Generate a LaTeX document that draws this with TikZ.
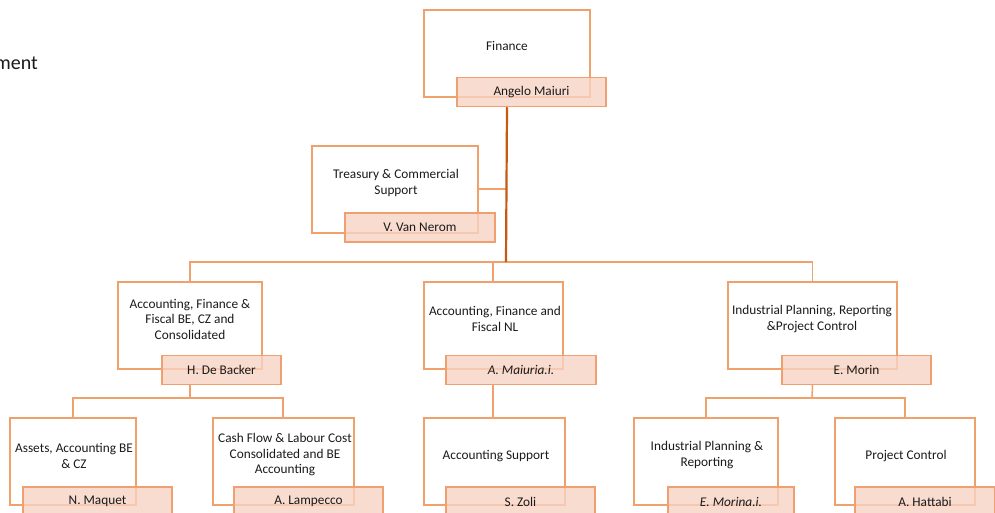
\documentclass[tikz,border=0pt]{standalone}
\usepackage{fontspec}
\setmainfont{Carlito}
\definecolor{boxc}{HTML}{F0A06A}
\definecolor{trunkc}{HTML}{C55A11}
\definecolor{namefill}{HTML}{F8D3C4}
\definecolor{namedraw}{HTML}{F0A070}
\definecolor{txt}{HTML}{1A1A1A}
\begin{document}
\begin{tikzpicture}[x=1pt,y=-1pt,
  unitbox/.style={draw=boxc,line width=1.5pt,inner sep=0pt,minimum height=87pt},
  namebox/.style={draw=namedraw,line width=1.5pt,fill=namefill,fill opacity=0.8,text opacity=1,inner sep=0pt,minimum height=29pt,font=\fontsize{13.3}{15}\selectfont,text=txt},
  unittext/.style={align=center,font=\fontsize{13.3}{15.5}\selectfont,text=txt,inner sep=0pt},
  link/.style={draw=boxc,line width=1.5pt},
  trunk/.style={draw=trunkc,line width=2.2pt}]
\useasboundingbox (0,0) rectangle (995,513);
\node[anchor=base east,font=\fontsize{20}{24}\selectfont,text=txt,inner sep=0pt] (title) at (38,70) {ment};

% level 0
\node[unitbox,minimum width=166pt] (fin) at (507,53.5) {};
\node[unittext] (fint) at (507,46) {Finance};
% level 1 side
\node[unitbox,minimum width=166pt] (tre) at (395,189.5) {};
\node[unittext] (tret) at (396,183) {Treasury \& Commercial\\Support};
% level 2
\node[unitbox,minimum width=144pt] (acb) at (190,325.5) {};
\node[unittext] (acbt) at (190,319) {Accounting, Finance \&\\Fiscal BE, CZ and\\Consolidated};
\node[unitbox,minimum width=139pt] (nl) at (493.5,325.5) {};
\node[unittext] (nlt) at (495,319) {Accounting, Finance and\\Fiscal NL};
\node[unitbox,minimum width=169pt] (ipr) at (812.5,325.5) {};
\node[unittext] (iprt) at (812,319) {Industrial Planning, Reporting\\\&Project Control};
% level 3
\node[unitbox,minimum width=126pt] (ass) at (73,461.5) {};
\node[unittext] (asst) at (74,456) {Assets, Accounting BE\\\& CZ};
\node[unitbox,minimum width=141pt] (cash) at (283.5,461.5) {};
\node[unittext] (casht) at (285,455) {Cash Flow \& Labour Cost\\Consolidated and BE\\Accounting};
\node[unitbox,minimum width=141pt] (acs) at (494.5,461.5) {};
\node[unittext] (acst) at (496,456) {Accounting Support};
\node[unitbox,minimum width=144pt] (ipp) at (706,461.5) {};
\node[unittext] (ippt) at (707,455) {Industrial Planning \&\\Reporting};
\node[unitbox,minimum width=140pt] (pc) at (905,461.5) {};
\node[unittext] (pct) at (906,456) {Project Control};

% connectors
\coordinate (bus) at (506,262);
\coordinate (trj) at (506,189);
\coordinate (be3) at (190,398);
\coordinate (ip3) at (812,398);
\coordinate (nlx) at (493,385);
\coordinate (cashx) at (283,398);
\draw[link] (tre.east |- trj) -- (trj);
\draw[link] (acb.north) |- (bus) -| (ipr.north);
\draw[link] (nlx |- nl.north) -- (nlx |- bus);
\draw[link] (ass.north) |- (be3) -- (cashx) -- (cashx |- cash.north);
\draw[link] (acb.center |- nlx) -- (be3);
\draw[link] (nlx) -- (nlx |- acs.north);
\draw[link] (ipp.north) |- (ip3) -| (pc.north);
\draw[link] (ipr.center |- nlx) -- (ip3);

% name boxes
\node[namebox,minimum width=149pt] (ang) at (531.5,92) {Angelo Maiuri};
\node[namebox,minimum width=150pt] (vvn) at (420,227.5) {V. Van Nerom};
\node[namebox,minimum width=119pt] (hdb) at (221.5,370) {H. De Backer};
\node[namebox,minimum width=150pt] (am) at (521,370) {\itshape A. Maiuria.i.};
\node[namebox,minimum width=149pt] (em) at (856.5,370) {E. Morin};
\node[namebox,minimum width=149pt] (nm) at (97.5,501.5) {N. Maquet};
\node[namebox,minimum width=149pt] (al) at (308.5,501.5) {A. Lampecco};
\node[namebox,minimum width=149pt] (sz) at (520.5,501.5) {S. Zoli};
\node[namebox,minimum width=126pt] (emi) at (731,501.5) {\itshape E. Morina.i.};
\node[namebox,minimum width=140pt] (ah) at (925,501.5) {A. Hattabi};

\draw[trunk] (fin.center |- ang.south) -- (bus);
\end{tikzpicture}
\end{document}
